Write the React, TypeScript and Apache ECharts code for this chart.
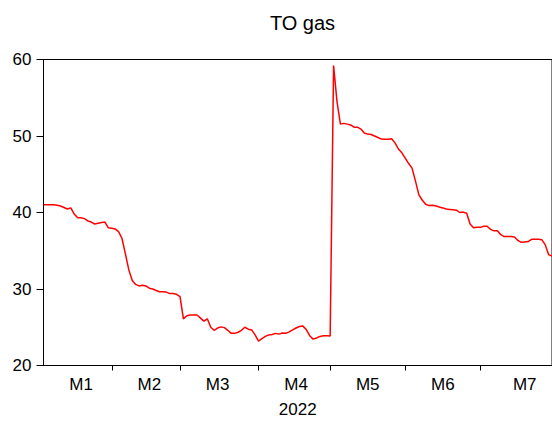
import React, { useEffect, useRef } from "react";
import * as echarts from "echarts";

const titleText = "TO gas";
const yearLabel = "2022";
const monthLabels = ["M1", "M2", "M3", "M4", "M5", "M6", "M7"];
// business days per month (Jan..Jul 2022)
const monthDays = [21, 20, 23, 21, 22, 22, 21];
// index (within all observations) where each month label is drawn
const monthLabelIndex = [11, 31, 51, 74, 95, 117, 141];
const yTicks = [20, 30, 40, 50, 60];

const values = [
  41.0, 41.0, 41.0, 41.0, 40.95, 40.85, 40.65, 40.45, 40.6, 39.8,
  39.3, 39.3, 39.2, 38.9, 38.75, 38.5, 38.6, 38.7, 38.75, 38.0,
  37.95, 37.85, 37.5, 36.6, 34.6, 32.5, 31.1, 30.6, 30.4, 30.5,
  30.4, 30.1, 30.0, 29.8, 29.65, 29.65, 29.6, 29.4, 29.4, 29.3,
  29.0, 26.1, 26.5, 26.6, 26.6, 26.6, 26.2, 25.8, 26.1, 25.0,
  24.6, 24.9, 25.05, 24.95, 24.6, 24.2, 24.2, 24.35, 24.6, 25.0,
  24.75, 24.65, 24.0, 23.2, 23.5, 23.8, 24.0, 24.05, 24.2, 24.1,
  24.25, 24.2, 24.4, 24.65, 24.9, 25.1, 25.15, 24.7, 23.9, 23.45,
  23.6, 23.8, 23.9, 23.9, 23.85, 59.2, 54.5, 51.55, 51.65, 51.55,
  51.44, 51.15, 51.15, 50.9, 50.4, 50.25, 50.2, 50.0, 49.8, 49.6,
  49.57, 49.57, 49.65, 49.1, 48.3, 47.8, 47.1, 46.4, 45.8, 44.1,
  42.3, 41.6, 41.07, 40.9, 40.95, 40.85, 40.72, 40.6, 40.45, 40.4,
  40.35, 40.3, 40.0, 40.05, 39.9, 38.5, 38.0, 38.06, 38.06, 38.2,
  38.2, 37.8, 37.6, 37.6, 37.1, 36.85, 36.87, 36.85, 36.8, 36.35,
  36.1, 36.15, 36.2, 36.5, 36.5, 36.5, 36.45, 35.8, 34.5, 34.3,
];

const categories: string[] = [];
const monthEndIndex: number[] = [];
const labelAt: Record<number, string> = {};
{
  let k = 0;
  monthDays.forEach((n, m) => {
    for (let d = 1; d <= n; d++) {
      categories.push(`${monthLabels[m]}-${d}`);
      k++;
    }
    monthEndIndex.push(k - 1);
  });
  monthLabelIndex.forEach((idx, m) => {
    labelAt[idx] = monthLabels[m];
  });
}
const tickSet = new Set(monthEndIndex.slice(0, monthEndIndex.length - 1));

const FONT = "'Liberation Sans', Arial, sans-serif";

export default function App() {
  const ref = useRef<HTMLDivElement>(null);
  useEffect(() => {
    if (!ref.current) return;
    const chart = echarts.init(ref.current, null, { renderer: "svg" });
    chart.setOption({
      animation: false,
      backgroundColor: "#fff",
      title: {
        text: titleText,
        left: 297.5,
        top: 8,
        textAlign: "center",
        textStyle: { fontFamily: FONT, fontSize: 20, fontWeight: "normal", color: "#000" },
      },
      grid: {
        left: 43.5,
        right: -1,
        top: 59.5,
        bottom: 59.5,
        show: true,
        borderColor: "#000",
        borderWidth: 1,
        containLabel: false,
      },
      xAxis: {
        type: "category",
        data: categories,
        boundaryGap: false,
        name: yearLabel,
        nameLocation: "middle",
        nameGap: 35,
        nameTextStyle: { fontFamily: FONT, fontSize: 17, color: "#000" },
        axisLine: { show: true, lineStyle: { color: "#000", width: 1 } },
        axisTick: {
          show: true,
          inside: false,
          length: 5,
          interval: (idx: number) => tickSet.has(idx),
          lineStyle: { color: "#000", width: 1 },
        },
        axisLabel: {
          interval: (idx: number) => labelAt[idx] !== undefined,
          formatter: (_v: string, idx: number) => labelAt[idx] ?? "",
          margin: 10,
          fontFamily: FONT,
          fontSize: 17,
          color: "#000",
        },
        splitLine: { show: false },
      },
      yAxis: {
        type: "value",
        min: yTicks[0],
        max: yTicks[yTicks.length - 1],
        interval: 10,
        axisLine: { show: true, lineStyle: { color: "#000", width: 1 } },
        axisTick: { show: true, inside: false, length: 7, lineStyle: { color: "#000", width: 1 } },
        axisLabel: { margin: 12, fontFamily: FONT, fontSize: 17, color: "#000" },
        splitLine: { show: false },
      },
      series: [
        {
          type: "line",
          data: values,
          symbol: "none",
          lineStyle: { color: "#ff0000", width: 1.5 },
        },
      ],
    });
    return () => chart.dispose();
  }, []);
  return <div ref={ref} style={{ width: 552, height: 425, position: "absolute", left: 0, top: 0 }} />;
}
